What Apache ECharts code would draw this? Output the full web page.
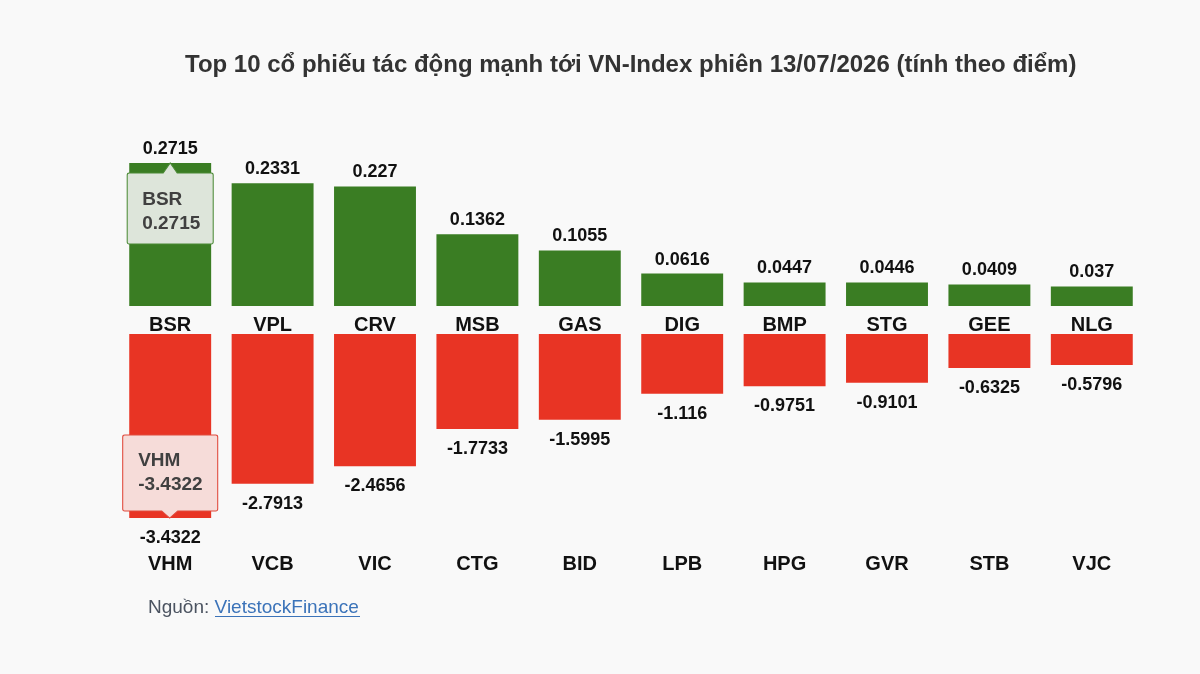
<!DOCTYPE html>
<html>
<head>
<meta charset="utf-8">
<style>
  html, body { margin: 0; padding: 0; background: #f9f9f9; }
  #chart { width: 1200px; height: 674px; }
</style>
<script src="https://cdn.jsdelivr.net/npm/echarts@6/dist/echarts.min.js"></script>
</head>
<body>
<div id="chart"></div>
<script>
// 数据
const tangMa = ['BSR', 'VPL', 'CRV', 'MSB', 'GAS', 'DIG', 'BMP', 'STG', 'GEE', 'NLG'];
const tangDiem = [0.2715, 0.2331, 0.227, 0.1362, 0.1055, 0.0616, 0.0447, 0.0446, 0.0409, 0.037];
const giamMa = ['VHM', 'VCB', 'VIC', 'CTG', 'BID', 'LPB', 'HPG', 'GVR', 'STB', 'VJC'];
const giamDiem = [-3.4322, -2.7913, -2.4656, -1.7733, -1.5995, -1.116, -0.9751, -0.9101, -0.6325, -0.5796];

const chart = echarts.init(document.getElementById('chart'));
const font = 'Liberation Sans, Arial, Helvetica, sans-serif';

// 提示框形状（带箭头）
const calloutUp = 'path://M2,10 L36,10 L43,0 L50,10 L84,10 Q86,10 86,12 L86,79 Q86,81 84,81 L2,81 Q0,81 0,79 L0,12 Q0,10 2,10 Z';
const calloutDown = 'path://M2,0 L93,0 Q95,0 95,2 L95,74 Q95,76 93,76 L55,76 L47,83 L39,76 L2,76 Q0,76 0,74 L0,2 Q0,0 2,0 Z';

const calloutLabel = {
    show: true,
    position: 'inside',
    color: '#404040',
    fontFamily: font,
    fontWeight: 'bold',
    fontSize: 19,
    lineHeight: 24,
    align: 'left'
};

const option = {
    backgroundColor: '#f9f9f9',
    animation: false,
    title: {
        text: 'Top 10 cổ phiếu tác động mạnh tới VN-Index phiên 13/07/2026 (tính theo điểm)',
        left: 185,
        top: 53,
        padding: 0,
        textStyle: {
            fontFamily: font,
            fontSize: 24,
            fontWeight: 'bold',
            color: '#333'
        }
    },
    grid: [
        { left: 119, right: 57, top: 163, bottom: 368 },
        { left: 119, right: 57, top: 334, bottom: 156 }
    ],
    xAxis: [
        {
            type: 'category', gridIndex: 0, data: tangMa,
            axisLine: { show: false }, axisTick: { show: false },
            axisLabel: { margin: 9, color: '#111', fontFamily: font, fontWeight: 'bold', fontSize: 20 }
        },
        {
            type: 'category', gridIndex: 1, data: giamMa, position: 'bottom',
            axisLine: { show: false, onZero: false }, axisTick: { show: false },
            axisLabel: { margin: 36, color: '#111', fontFamily: font, fontWeight: 'bold', fontSize: 20 }
        }
    ],
    yAxis: [
        { type: 'value', gridIndex: 0, min: 0, max: 0.2715, show: false },
        { type: 'value', gridIndex: 1, min: -3.4322, max: 0, show: false }
    ],
    series: [
        {
            type: 'bar', xAxisIndex: 0, yAxisIndex: 0,
            data: tangDiem,
            barWidth: '80%',
            itemStyle: { color: '#3a7d23' },
            label: {
                show: true, position: 'top', distance: 5,
                color: '#111', fontFamily: font, fontWeight: 'bold', fontSize: 18
            },
            markPoint: {
                data: [{
                    coord: [0, tangDiem[0]],
                    symbol: calloutUp,
                    symbolSize: [86, 81],
                    symbolOffset: [0, 40.5],
                    itemStyle: { color: '#dde5da', borderColor: '#4b8a35', borderWidth: 1 },
                    label: Object.assign({}, calloutLabel, {
                        formatter: tangMa[0] + '\n' + tangDiem[0],
                        offset: [-28, 8]
                    })
                }]
            }
        },
        {
            type: 'bar', xAxisIndex: 1, yAxisIndex: 1,
            data: giamDiem,
            barWidth: '80%',
            itemStyle: { color: '#e83424' },
            label: {
                show: true, position: 'bottom', distance: 11,
                color: '#111', fontFamily: font, fontWeight: 'bold', fontSize: 18
            },
            markPoint: {
                data: [{
                    coord: [0, giamDiem[0]],
                    symbol: calloutDown,
                    symbolSize: [95, 83],
                    symbolOffset: [0, -41.5],
                    itemStyle: { color: '#f6dcd9', borderColor: '#e04a3c', borderWidth: 1 },
                    label: Object.assign({}, calloutLabel, {
                        formatter: giamMa[0] + '\n' + giamDiem[0],
                        offset: [-32, -4]
                    })
                }]
            }
        }
    ],
    graphic: [
        {
            type: 'text', left: 148, top: 598,
            style: {
                text: 'Nguồn: {link|VietstockFinance}',
                fontFamily: font, fontSize: 19, fill: '#4b5360',
                rich: { link: { fontFamily: font, fontSize: 19, fill: '#3b73b9' } }
            }
        },
        {
            type: 'line',
            shape: { x1: 215, y1: 616.5, x2: 360, y2: 616.5 },
            style: { stroke: '#3b73b9', lineWidth: 1 }
        }
    ]
};

chart.setOption(option);
window.addEventListener('resize', function () {
    chart.resize();
});
</script>
</body>
</html>
